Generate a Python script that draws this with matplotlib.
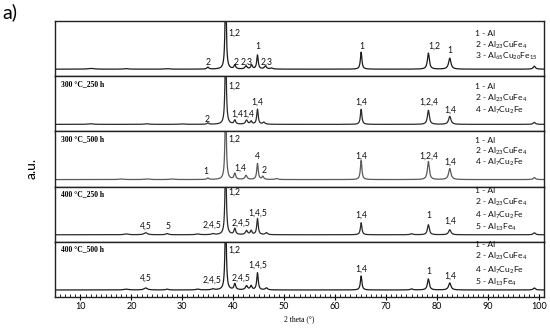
import numpy as np
import matplotlib
matplotlib.use("Agg")
import matplotlib.pyplot as plt

plt.rcParams['font.family'] = ['Lato', 'DejaVu Sans']
plt.rcParams['mathtext.fontset'] = 'custom'
plt.rcParams['mathtext.rm'] = 'Lato'
plt.rcParams['mathtext.it'] = 'Lato'

# ---- data ----
panel_titles = ["", "300 °C_250 h", "300 °C_500 h", "400 °C_250 h", "400 °C_500 h"]

# peak positions (2theta), heights (a.u.), widths (deg)
p1_pos = [12.0, 19.0, 27.0, 35.0, 38.5, 40.3, 42.5, 43.6, 44.75, 46.3, 47.5, 65.1, 78.3, 82.5, 99.1]
p1_h   = [0.8, 0.5, 0.5, 2.0, 80, 4.0, 3.0, 4.0, 14.0, 3.0, 1.0, 17.0, 16.0, 11.0, 3.0]
p1_w   = [1.2, 1.0, 1.0, 0.4, 0.3, 0.4, 0.5, 0.4, 0.35, 0.5, 0.6, 0.35, 0.45, 0.55, 0.5]

p2_pos = [12.0, 23.0, 30.0, 35.0, 38.5, 40.3, 42.6, 43.5, 44.75, 46.0, 65.1, 78.3, 82.5, 99.1]
p2_h   = [0.6, 0.6, 0.5, 1.5, 80, 4.0, 4.0, 3.0, 15.0, 2.0, 15.0, 14.0, 8.0, 2.0]
p2_w   = [1.2, 1.0, 1.0, 0.4, 0.3, 0.4, 0.5, 0.4, 0.35, 0.5, 0.35, 0.45, 0.55, 0.5]

p3_pos = [18.0, 23.0, 28.0, 35.0, 38.5, 40.3, 42.5, 44.75, 45.8, 48.5, 65.1, 78.3, 82.5, 99.1]
p3_h   = [0.6, 0.6, 0.5, 1.5, 80, 6.0, 4.0, 16.0, 3.0, 1.0, 19.0, 18.0, 11.0, 2.0]
p3_w   = [1.0, 1.0, 1.0, 0.4, 0.3, 0.4, 0.5, 0.35, 0.4, 0.6, 0.35, 0.45, 0.55, 0.5]

p4_pos = [19.0, 22.8, 27.0, 33.0, 36.0, 38.5, 40.3, 42.6, 43.5, 44.75, 46.5, 65.1, 75.0, 78.3, 82.5, 99.1]
p4_h   = [0.8, 2.0, 1.2, 0.8, 1.0, 80, 6.0, 4.0, 4.0, 16.0, 2.0, 12.0, 1.0, 10.0, 5.0, 2.0]
p4_w   = [1.0, 0.8, 0.6, 0.8, 0.6, 0.3, 0.4, 0.5, 0.4, 0.35, 0.5, 0.35, 0.6, 0.45, 0.55, 0.5]

p5_pos = [19.0, 22.8, 27.0, 33.0, 36.0, 38.5, 40.3, 42.6, 43.5, 44.75, 46.5, 65.1, 75.0, 78.3, 82.5, 99.1]
p5_h   = [0.8, 2.0, 0.8, 0.8, 1.0, 80, 6.0, 4.0, 4.0, 17.0, 2.0, 14.0, 1.0, 11.0, 7.0, 2.0]
p5_w   = [1.0, 0.8, 0.6, 0.8, 0.6, 0.3, 0.4, 0.5, 0.4, 0.35, 0.5, 0.35, 0.6, 0.45, 0.55, 0.5]

peaks = [(p1_pos, p1_h, p1_w), (p2_pos, p2_h, p2_w), (p3_pos, p3_h, p3_w),
         (p4_pos, p4_h, p4_w), (p5_pos, p5_h, p5_w)]

# peak annotations: (2theta, height, text)
lab1 = [(35.0, 7, "2"), (39.1, 36, "1,2"), (40.6, 7, "2"), (42.6, 7, "2,3"), (44.8, 23, "1"),
        (46.6, 7, "2,3"), (65.2, 23, "1"), (78.3, 23, "1,2"), (82.6, 19, "1")]
lab2 = [(34.8, 5, "2"), (39.1, 38, "1,2"), (40.8, 10, "1,4"), (43.0, 10, "1,4"), (44.8, 22, "1,4"),
        (65.2, 22, "1,4"), (78.3, 22, "1,2,4"), (82.6, 14, "1,4")]
lab3 = [(34.6, 8, "1"), (39.1, 40, "1,2"), (41.3, 11, "1,4"), (44.7, 23, "4"), (46.1, 9, "2"),
        (65.2, 23, "1,4"), (78.3, 23, "1,2,4"), (82.6, 17, "1,4")]
lab4 = [(22.8, 9, "4,5"), (27.2, 8, "5"), (35.9, 10, "2,4,5"), (39.1, 42, "1,2"), (41.6, 12, "2,4,5"),
        (44.8, 22, "1,4,5"), (65.2, 20, "1,4"), (78.4, 19, "1"), (82.6, 14, "1,4")]
lab5 = [(22.8, 12, "4,5"), (35.9, 10, "2,4,5"), (39.1, 40, "1,2"), (41.6, 12, "2,4,5"),
        (44.8, 25, "1,4,5"), (65.2, 21, "1,4"), (78.4, 18, "1"), (82.6, 14, "1,4")]
labels = [lab1, lab2, lab3, lab4, lab5]

leg_a = ["1 - Al", "2 - Al$_{23}$CuFe$_{4}$", "3 - Al$_{65}$Cu$_{20}$Fe$_{15}$"]
leg_b = ["1 - Al", "2 - Al$_{23}$CuFe$_{4}$", "4 - Al$_{7}$Cu$_{2}$Fe"]
leg_c = ["1 - Al", "2 - Al$_{23}$CuFe$_{4}$", "4 - Al$_{7}$Cu$_{2}$Fe", "5 - Al$_{13}$Fe$_{4}$"]
legends = [leg_a, leg_b, leg_b, leg_c, leg_c]
leg_y = [[36, 24, 13], [38, 26, 14], [39, 28, 17], [44, 32, 19, 7], [45, 33, 20, 8]]

xticks = [10, 20, 30, 40, 50, 60, 70, 80, 90, 100]
line_colors = ['#1a1a1a', '#2a2a2a', '#5a5a5a', '#2a2a2a', '#1a1a1a']

# ---- plotting ----
fig = plt.figure(figsize=(5.5, 3.36), dpi=100)
left, right, bottom, top = 55/550, 544/550, 1 - 297/336, 1 - 21/336
n = 5
h = (top - bottom) / n
x = np.linspace(5, 101, 4000)

axes = []
for i in range(n):
    ax = fig.add_axes([left, top - (i + 1) * h, right - left, h])
    axes.append(ax)
    pos, hh, ww = peaks[i]
    y = np.zeros_like(x)
    for p, a, w in zip(pos, hh, ww):
        y += a / (1 + ((x - p) / (w / 2)) ** 2)
    ax.plot(x, y, color=line_colors[i], lw=0.9)
    ax.set_xlim(5, 101)
    ax.set_ylim(-7, 48)
    ax.set_yticks([])
    for s in ax.spines.values():
        s.set_linewidth(1.0)
        s.set_color('#222222')
    if panel_titles[i]:
        ax.text(0.012, 0.93, panel_titles[i], transform=ax.transAxes, ha='left', va='top',
                fontsize=5.5, fontweight='bold', family=['Liberation Serif'])
    for (px, py, t) in labels[i]:
        ha = 'left' if t == "1,2" else 'center'
        ax.text(px, py, t, ha=ha, va='center', fontsize=6.2, color='#111111')
    for t, yy in zip(legends[i], leg_y[i]):
        ax.text(0.858, yy, t, transform=ax.get_yaxis_transform(), ha='left', va='center',
                fontsize=6.1, color='#111111')
    if i < n - 1:
        ax.set_xticks([])
    else:
        ax.set_xticks(xticks)
        ax.set_xticks(np.arange(6, 101, 1), minor=True)
        ax.tick_params(axis='x', which='major', direction='inout', length=4, width=0.8,
                       labelsize=6.5, pad=1.5)
        ax.tick_params(axis='x', which='minor', direction='in', length=2, width=0.6)
        ax.set_xlabel("2 theta (°)", fontsize=5.5, family=['Liberation Serif'], labelpad=3)

fig.text(0.058, 0.5, "a.u.", rotation=90, ha='center', va='center', fontsize=10)
fig.text(0.005, 0.965, "a)", ha='left', va='center', fontsize=14)

fig.savefig("out.png", dpi=100)
